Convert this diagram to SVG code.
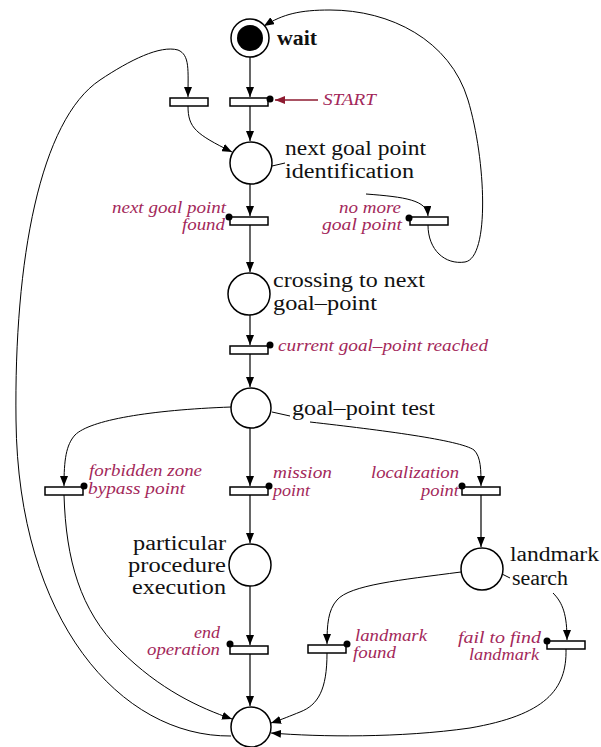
<svg xmlns="http://www.w3.org/2000/svg" width="601" height="747" viewBox="0 0 601 747">
  <defs>
    <marker id="arrow" viewBox="0 0 10 8" refX="10" refY="4" markerWidth="10" markerHeight="8" markerUnits="userSpaceOnUse" orient="auto">
      <path d="M0 0 L10 4 L0 8 Z" fill="#000"/>
    </marker>
    <marker id="arrowRed" viewBox="0 0 10 8" refX="10" refY="4" markerWidth="10" markerHeight="8" markerUnits="userSpaceOnUse" orient="auto">
      <path d="M0 0 L10 4 L0 8 Z" fill="#8e1b30"/>
    </marker>
  </defs>
  <style>
    .place { fill: #fff; stroke: #000; stroke-width: 1.5; }
    .trans { fill: #fff; stroke: #000; stroke-width: 1.5; }
    .dot { fill: #000; }
    .arc { fill: none; stroke: #000; stroke-width: 1.2; }
    .curve { fill: none; stroke: #000; stroke-width: 1; }
    .big { font-family: "Liberation Serif", "Times New Roman", serif; font-size: 20px; fill: #111; }
    .lbl { font-family: "Liberation Serif", "Times New Roman", serif; font-size: 16px; font-style: italic; fill: #a3285a; }
    .end { text-anchor: end; }
  </style>
  <rect width="601" height="747" fill="#fff"/>

  <!-- connectors -->
  <g id="connectors">
    <path class="arc" d="M250 57 L250 97" marker-end="url(#arrow)"/>
    <path class="arc" d="M250 106 L250 141" marker-end="url(#arrow)"/>
    <path class="curve" d="M188 106 C188 128, 196 134, 232 152" marker-end="url(#arrow)"/>
    <path class="arc" d="M250 184 L250 216" marker-end="url(#arrow)"/>
    <path class="arc" d="M250 225 L250 272" marker-end="url(#arrow)"/>
    <path class="curve" d="M272 166 L285 163 M366 194 C405 197, 427 200, 428 216" marker-end="url(#arrow)"/>
    <path class="curve" d="M428 225 C428 250, 445 265, 465 262 C490 258, 486 160, 468 100 C450 40, 390 10, 330 10 C300 10, 283 14, 264 26" marker-end="url(#arrow)"/>
    <path class="arc" d="M250 315 L250 345" marker-end="url(#arrow)"/>
    <path class="arc" d="M250 354 L250 387" marker-end="url(#arrow)"/>
    <path class="arc" d="M250 428 L250 486" marker-end="url(#arrow)"/>
    <path class="arc" d="M250 495 L250 543" marker-end="url(#arrow)"/>
    <path class="curve" d="M231 407 C150 410, 90 420, 75 435 C66 445, 64 460, 64 486" marker-end="url(#arrow)"/>
    <path class="curve" d="M272 412 L290 416 M310 422 C380 430, 460 440, 474 450 C481 457, 481 470, 481 486" marker-end="url(#arrow)"/>
    <path class="arc" d="M481 493 L481 547" marker-end="url(#arrow)"/>
    <path class="curve" d="M461 572 C400 580, 350 585, 337 600 C328 610, 327 625, 327 644" marker-end="url(#arrow)"/>
    <path class="curve" d="M502 574 L510 578 M553 593 C563 603, 567 615, 567 640" marker-end="url(#arrow)"/>
    <path class="arc" d="M250 586 L250 645" marker-end="url(#arrow)"/>
    <path class="arc" d="M250 654 L250 706" marker-end="url(#arrow)"/>
    <path class="curve" d="M64 495 C66 560, 80 610, 120 650 C160 690, 200 708, 232 719" marker-end="url(#arrow)"/>
    <path class="curve" d="M327 653 C327 690, 318 705, 300 712 C290 716, 283 719, 271 723" marker-end="url(#arrow)"/>
    <path class="curve" d="M566 649 C567 690, 545 715, 470 728 C400 738, 320 737, 271 733" marker-end="url(#arrow)"/>
    <path class="curve" d="M231 736 C120 737, 18 620, 16 420 C14 260, 40 120, 100 80 C130 60, 160 45, 178 50 C190 55, 188 70, 188 97" marker-end="url(#arrow)"/>
    <path fill="none" stroke="#8e1b30" stroke-width="1.4" d="M318 100 L275 100" marker-end="url(#arrowRed)"/>
  </g>

  <!-- places -->
  <g id="p_wait">
    <circle class="place" cx="250" cy="38" r="19"/>
    <circle cx="250" cy="38" r="13" fill="#000"/>
    <text class="big" x="277" y="45" font-weight="bold" textLength="40" lengthAdjust="spacingAndGlyphs">wait</text>
  </g>
  <g id="p_next">
    <circle class="place" cx="251" cy="163" r="21"/>
    <text class="big" x="285" y="155" textLength="141" lengthAdjust="spacingAndGlyphs">next goal point</text>
    <text class="big" x="285" y="178" textLength="129" lengthAdjust="spacingAndGlyphs">identification</text>
  </g>
  <g id="p_cross">
    <circle class="place" cx="249" cy="294" r="21"/>
    <text class="big" x="273" y="287" textLength="152" lengthAdjust="spacingAndGlyphs">crossing to next</text>
    <text class="big" x="273" y="310" textLength="104" lengthAdjust="spacingAndGlyphs">goal–point</text>
  </g>
  <g id="p_test">
    <circle class="place" cx="251" cy="408" r="20"/>
    <text class="big" x="292" y="415" textLength="143" lengthAdjust="spacingAndGlyphs">goal–point test</text>
  </g>
  <g id="p_proc">
    <circle class="place" cx="250" cy="565" r="21"/>
    <text class="big end" x="226" y="550" textLength="93" lengthAdjust="spacingAndGlyphs">particular</text>
    <text class="big end" x="226" y="572" textLength="98" lengthAdjust="spacingAndGlyphs">procedure</text>
    <text class="big end" x="226" y="594" textLength="94" lengthAdjust="spacingAndGlyphs">execution</text>
  </g>
  <g id="p_land">
    <circle class="place" cx="482" cy="569" r="21"/>
    <text class="big" x="510" y="561" textLength="89" lengthAdjust="spacingAndGlyphs">landmark</text>
    <text class="big" x="512" y="585" textLength="56" lengthAdjust="spacingAndGlyphs">search</text>
  </g>
  <g id="p_final">
    <circle class="place" cx="251" cy="727" r="20"/>
  </g>

  <!-- transitions -->
  <g id="t_loop">
    <rect class="trans" x="170" y="98" width="38" height="8"/>
  </g>
  <g id="t_start">
    <rect class="trans" x="230" y="98" width="38" height="8"/>
    <circle class="dot" cx="270" cy="99" r="3.5"/>
    <text class="lbl" x="323" y="105" textLength="53" lengthAdjust="spacingAndGlyphs">START</text>
  </g>
  <g id="t_found">
    <rect class="trans" x="230" y="217" width="38" height="8"/>
    <circle class="dot" cx="229" cy="217" r="3.5"/>
    <text class="lbl end" x="226" y="213" textLength="114" lengthAdjust="spacingAndGlyphs">next goal point</text>
    <text class="lbl end" x="225" y="230" textLength="43" lengthAdjust="spacingAndGlyphs">found</text>
  </g>
  <g id="t_nomore">
    <rect class="trans" x="410" y="217" width="38" height="8"/>
    <circle class="dot" cx="409" cy="218" r="3.5"/>
    <text class="lbl end" x="401" y="213" textLength="62" lengthAdjust="spacingAndGlyphs">no more</text>
    <text class="lbl end" x="402" y="230" textLength="80" lengthAdjust="spacingAndGlyphs">goal point</text>
  </g>
  <g id="t_reached">
    <rect class="trans" x="230" y="346" width="38" height="8"/>
    <circle class="dot" cx="270" cy="345" r="3.5"/>
    <text class="lbl" x="278" y="351" textLength="210" lengthAdjust="spacingAndGlyphs">current goal–point reached</text>
  </g>
  <g id="t_forbid">
    <rect class="trans" x="45" y="487" width="38" height="8"/>
    <circle class="dot" cx="84" cy="486" r="3.5"/>
    <text class="lbl" x="89" y="476" textLength="113" lengthAdjust="spacingAndGlyphs">forbidden zone</text>
    <text class="lbl" x="88" y="494" textLength="97" lengthAdjust="spacingAndGlyphs">bypass point</text>
  </g>
  <g id="t_mission">
    <rect class="trans" x="230" y="487" width="38" height="8"/>
    <circle class="dot" cx="269" cy="486" r="3.5"/>
    <text class="lbl" x="273" y="478" textLength="59" lengthAdjust="spacingAndGlyphs">mission</text>
    <text class="lbl" x="273" y="496" textLength="37" lengthAdjust="spacingAndGlyphs">point</text>
  </g>
  <g id="t_local">
    <rect class="trans" x="462" y="487" width="38" height="8"/>
    <circle class="dot" cx="462" cy="486" r="3.5"/>
    <text class="lbl end" x="459" y="478" textLength="88" lengthAdjust="spacingAndGlyphs">localization</text>
    <text class="lbl end" x="459" y="496" textLength="38" lengthAdjust="spacingAndGlyphs">point</text>
  </g>
  <g id="t_end">
    <rect class="trans" x="230" y="646" width="38" height="8"/>
    <circle class="dot" cx="230" cy="644" r="3.5"/>
    <text class="lbl end" x="220" y="638" textLength="26" lengthAdjust="spacingAndGlyphs">end</text>
    <text class="lbl end" x="220" y="655" textLength="73" lengthAdjust="spacingAndGlyphs">operation</text>
  </g>
  <g id="t_lfound">
    <rect class="trans" x="308" y="645" width="38" height="8"/>
    <circle class="dot" cx="347" cy="644" r="3.5"/>
    <text class="lbl" x="355" y="641" textLength="72" lengthAdjust="spacingAndGlyphs">landmark</text>
    <text class="lbl" x="353" y="658" textLength="43" lengthAdjust="spacingAndGlyphs">found</text>
  </g>
  <g id="t_fail">
    <rect class="trans" x="547" y="641" width="38" height="8"/>
    <circle class="dot" cx="547" cy="641" r="3.5"/>
    <text class="lbl end" x="541" y="643" textLength="83" lengthAdjust="spacingAndGlyphs">fail to find</text>
    <text class="lbl end" x="539" y="660" textLength="70" lengthAdjust="spacingAndGlyphs">landmark</text>
  </g>
</svg>
